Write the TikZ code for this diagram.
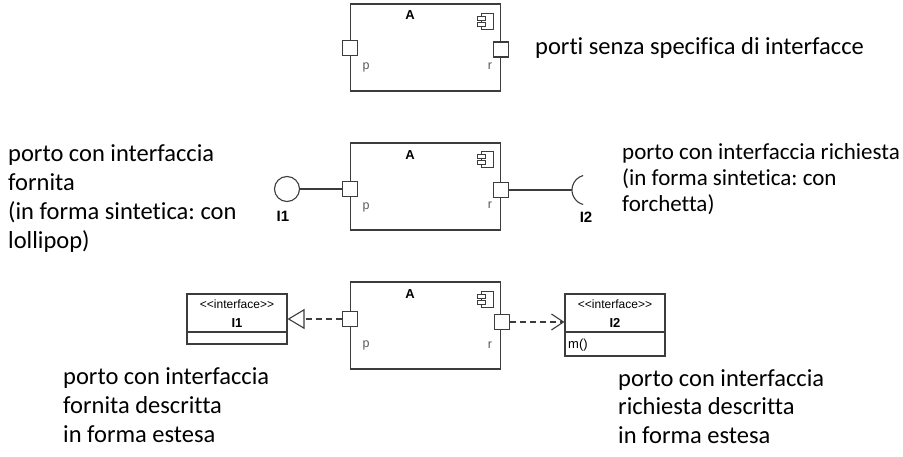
\documentclass[tikz,border=0pt]{standalone}
\usepackage{fontspec}
\setmainfont{Carlito}[Ligatures=NoCommon]
\newfontfamily\umlfont{Liberation Sans}
\usetikzlibrary{arrows.meta,positioning}
\pgfdeclarelayer{edgelayer}
\pgfdeclarelayer{nodelayer}
\pgfsetlayers{main,edgelayer,nodelayer}
\definecolor{umlgrey}{RGB}{60,60,60}
\frenchspacing
\tikzstyle{none}=[inner sep=0mm]
\tikzstyle{comp}=[draw=umlgrey,line width=1.2pt,fill=white,minimum width=150pt,minimum height=87pt,inner sep=0pt]
\tikzstyle{port}=[draw=umlgrey,line width=1.1pt,fill=white,minimum width=15pt,minimum height=15pt,inner sep=0pt]
\tikzstyle{compname}=[inner sep=0pt,font=\umlfont\bfseries\fontsize{13}{14}\selectfont]
\tikzstyle{portname}=[inner sep=0pt,text=umlgrey!85,font=\umlfont\fontsize{12.5}{13}\selectfont]
\tikzstyle{ifname}=[inner sep=0pt,font=\umlfont\bfseries\fontsize{15}{16}\selectfont]
\tikzstyle{iface}=[draw=umlgrey,line width=1.1pt,fill=white,minimum width=100pt,inner sep=0pt]
\tikzstyle{stereo}=[inner sep=0pt,font=\umlfont\fontsize{12}{13}\selectfont]
\tikzstyle{note}=[inner sep=0pt,anchor=base west,align=left,font=\fontsize{24.5}{29}\selectfont]
\tikzstyle{wire}=[draw=umlgrey,line width=1.1pt]
\tikzstyle{depline}=[draw=umlgrey,line width=1.1pt,dash pattern=on 6pt off 4pt]
\newcommand{\compicon}[2]{%
  \draw[umlgrey,line width=0.9pt] (#1+4,#2) rectangle (#1+16,#2+16);
  \draw[umlgrey,line width=0.9pt,fill=white] (#1,#2+3) rectangle (#1+8,#2+7);
  \draw[umlgrey,line width=0.9pt,fill=white] (#1,#2+9) rectangle (#1+8,#2+13);}

\begin{document}
\begin{tikzpicture}[x=1pt,y=-1pt]
	\useasboundingbox[fill=white] (0,0) rectangle (903,457);
	\begin{pgfonlayer}{nodelayer}
		% row 1: ports with no interface
		\node [style=comp] (c1) at (425.5, 47.5) {};
		\node [style=compname] (c1a) at (410, 15) {A};
		\compicon{477}{13}
		\node [style=port] (p1) at (350, 48) {};
		\node [style=port] (r1) at (501, 49.5) {};
		\node [style=portname] (p1l) at (366, 67) {p};
		\node [style=portname] (r1l) at (490, 66) {r};
		\node [style=note] (t1) at (535, 55) {porti senza specifica di interfacce};

		% row 2: lollipop and socket
		\node [style=comp] (c2) at (425.5, 186.5) {};
		\node [style=compname] (c2a) at (410, 155) {A};
		\compicon{477}{151}
		\node [style=port] (p2) at (350, 189) {};
		\node [style=port] (r2) at (501, 190) {};
		\node [style=portname] (p2l) at (366, 207) {p};
		\node [style=portname] (r2l) at (490, 205) {r};
		\node [draw=umlgrey,line width=1.1pt,circle,minimum size=25pt,inner sep=0pt] (l1) at (287, 189) {};
		\coordinate (s2) at (572, 190);
		\node [style=ifname] (l1n) at (283, 216) {I1};
		\node [style=ifname] (s2n) at (586, 217) {I2};
		\node [style=note] (t2) at (8, 249) {porto con interfaccia\\fornita\\(in forma sintetica: con\\lollipop)};
		\node [style=note,font=\fontsize{23}{26}\selectfont] (t3) at (622, 212) {porto con interfaccia richiesta\\(in forma sintetica: con\\forchetta)};

		% row 3: interfaces in extended form
		\node [style=comp] (c3) at (425.5, 325.5) {};
		\node [style=compname] (c3a) at (410, 294) {A};
		\compicon{477}{291}
		\node [style=port] (p3) at (350, 319) {};
		\node [style=port] (r3) at (502, 322) {};
		\node [style=portname] (p3l) at (366, 345) {p};
		\node [style=portname] (r3l) at (490, 345) {r};
		\node [style=iface,minimum height=38pt] (i1) at (237, 313) {};
		\node [style=iface,minimum height=12pt] (i1b) at (237, 338) {};
		\node [style=stereo] (i1s) at (237, 304) {<{}<interface>{}>};
		\node [style=ifname,font=\umlfont\bfseries\fontsize{13}{14}\selectfont] (i1n) at (237, 323) {I1};
		\node [style=iface,minimum height=38pt] (i2) at (615, 313) {};
		\node [style=iface,minimum height=24pt] (i2b) at (615, 344) {};
		\node [style=stereo] (i2s) at (615, 304) {<{}<interface>{}>};
		\node [style=ifname,font=\umlfont\bfseries\fontsize{13}{14}\selectfont] (i2n) at (615, 323) {I2};
		\node [inner sep=0pt,anchor=west,font=\umlfont\fontsize{13}{14}\selectfont] (i2m) at (568, 345) {m()};
		\node [style=note] (t4) at (63, 442) {porto con interfaccia\\fornita descritta\\in forma estesa};
		\node [style=note,font=\fontsize{24.5}{28.5}\selectfont] (t5) at (618, 443) {porto con interfaccia\\richiesta descritta\\in forma estesa};
	\end{pgfonlayer}
	\begin{pgfonlayer}{edgelayer}
		\draw [style=wire] (l1.east) to (p2.west |- l1.east);
		\draw [style=wire] (r2) to (s2);
		\draw [style=wire] (s2) ++(15,0) ++(105:15) arc (105:255:15);
		\draw [style=depline, -{Triangle[open,length=17pt,width=20pt]}] (p3.west) to (i1.east |- p3.west);
		\draw [style=depline, -{Straight Barb[length=12pt,width=16pt]}] (r3.east) to (i2.west |- r3.east);
	\end{pgfonlayer}
\end{tikzpicture}
\end{document}
